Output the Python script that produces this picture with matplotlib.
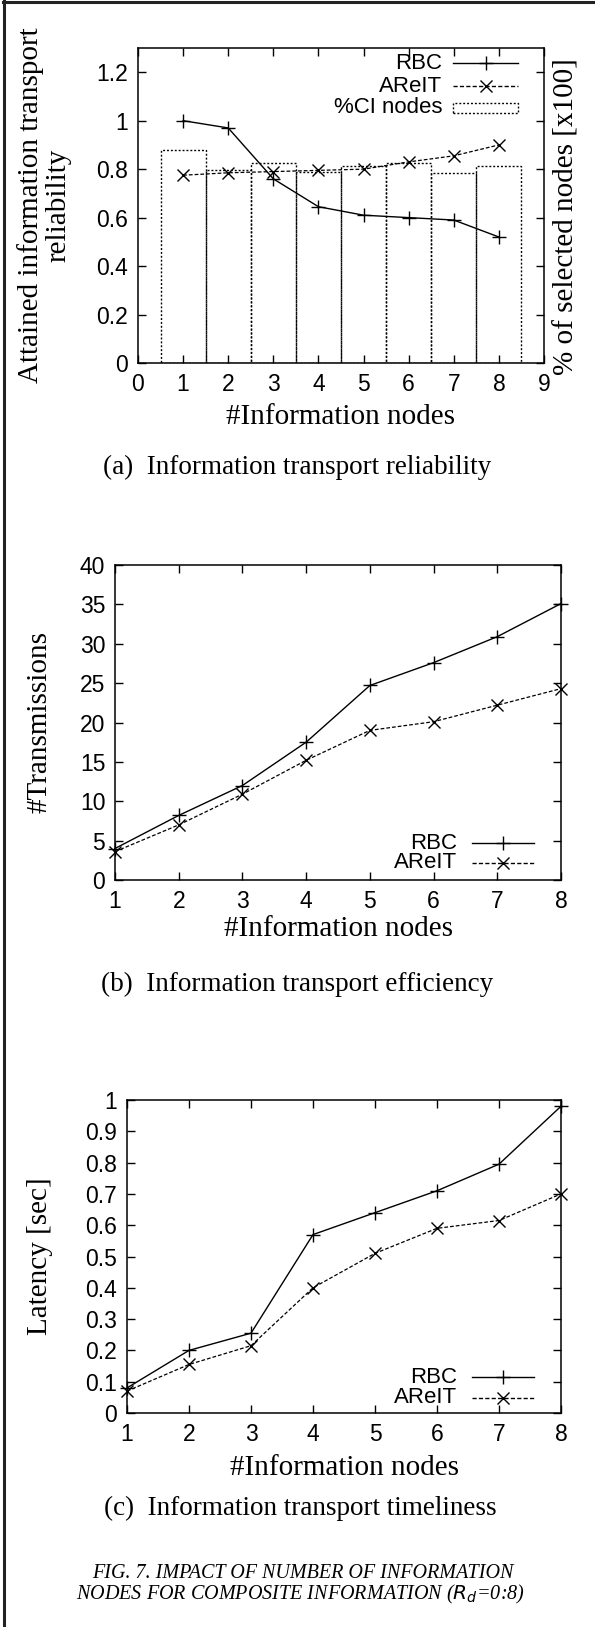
import matplotlib
matplotlib.use('Agg')
import matplotlib.pyplot as plt
from matplotlib.lines import Line2D
from matplotlib.patches import Rectangle

W, H = 595, 1627
DPI = 100

# ---------------- data ----------------
nodes = [1, 2, 3, 4, 5, 6, 7, 8]

rel_rbc = [1.00, 0.97, 0.76, 0.645, 0.61, 0.60, 0.59, 0.52]
rel_arelt = [0.775, 0.785, 0.79, 0.795, 0.80, 0.83, 0.855, 0.90]
ci_nodes = [0.88, 0.795, 0.825, 0.79, 0.815, 0.825, 0.785, 0.815]

tx_rbc = [4.0, 8.2, 12.0, 17.5, 24.7, 27.6, 30.9, 35.1]
tx_arelt = [3.6, 7.0, 10.9, 15.2, 19.0, 20.1, 22.2, 24.3]

lat_rbc = [0.08, 0.20, 0.255, 0.57, 0.64, 0.71, 0.795, 0.98]
lat_arelt = [0.07, 0.155, 0.215, 0.40, 0.51, 0.59, 0.615, 0.70]

series_labels = ['RBC', 'AReIT', '%CI nodes']

xt_a = [0, 1, 2, 3, 4, 5, 6, 7, 8, 9]
yt_a = [0, 0.2, 0.4, 0.6, 0.8, 1.0, 1.2]
yt_a_lbl = ['0', '0.2', '0.4', '0.6', '0.8', '1', '1.2']
yt_b = [0, 5, 10, 15, 20, 25, 30, 35, 40]
yt_c = [0, 0.1, 0.2, 0.3, 0.4, 0.5, 0.6, 0.7, 0.8, 0.9, 1.0]
yt_c_lbl = ['0', '0.1', '0.2', '0.3', '0.4', '0.5', '0.6', '0.7', '0.8', '0.9', '1']

# ---------------- style ----------------
SANS = ['Liberation Sans', 'DejaVu Sans']
SERIF = ['Liberation Serif', 'DejaVu Serif']
TICK_FS = 16.5
LEG_FS = 16
LAB_FS = 21
CAP_FS = 19.5
DASH = (0, (3.0, 1.6))
DOT = (0, (1.4, 1.4))

fig = plt.figure(figsize=(W / DPI, H / DPI), dpi=DPI)


def fx(x):
    return x / W


def fy(y):
    return 1 - y / H


def px_axes(l, r, t, b):
    return fig.add_axes([l / W, 1 - b / H, (r - l) / W, (b - t) / H])


def style_axes(ax):
    ax.tick_params(direction='in', top=True, right=True, length=6, width=1,
                   labelsize=TICK_FS, pad=7)
    ax.tick_params(axis='y', pad=7)
    for lbl in ax.get_xticklabels() + ax.get_yticklabels():
        lbl.set_family(SANS)
    for s in ax.spines.values():
        s.set_linewidth(1.1)


def plot_lines(ax, x, y1, y2):
    ax.plot(x, y1, color='black', lw=1.0, marker='+', ms=10, mew=1.0,
            clip_on=False, zorder=3)
    ax.plot(x, y2, color='black', lw=0.9, ls=DASH, marker='x', ms=9, mew=1.0,
            clip_on=False, zorder=3)


def manual_legend(ax, entries, xt, x1, x2, ys):
    for (label, kind), y in zip(entries, ys):
        ax.text(xt, y, label, transform=ax.transAxes, ha='right', va='center',
                fontsize=LEG_FS, family=SANS)
        if kind == 'rect':
            h = 0.032
            ax.add_patch(Rectangle((x1, y - h / 2), x2 - x1, h, transform=ax.transAxes,
                                   fill=False, ls=DOT, lw=1.0, ec='black', clip_on=False))
        else:
            ls = '-' if kind == '+' else DASH
            ax.add_line(Line2D([x1, x2], [y, y], color='black', lw=1.0, ls=ls,
                               transform=ax.transAxes))
            ax.add_line(Line2D([(x1 + x2) / 2], [y], color='black', marker=kind,
                               ms=10 if kind == '+' else 9, mew=1.0, ls='none',
                               transform=ax.transAxes))


# ---------------- (a) reliability ----------------
axa = px_axes(138, 544, 48, 363)
axa.bar(nodes, ci_nodes, width=1.0, fill=False, edgecolor='black', ls=DOT, lw=1.0)
plot_lines(axa, nodes, rel_rbc, rel_arelt)
axa.set_xlim(0, 9)
axa.set_ylim(0, 1.3)
axa.set_xticks(xt_a)
axa.set_yticks(yt_a)
axa.set_yticklabels(yt_a_lbl)
style_axes(axa)
manual_legend(axa, [(series_labels[0], '+'), (series_labels[1], 'x'), (series_labels[2], 'rect')],
              0.749, 0.776, 0.936, [0.952, 0.879, 0.810])
fig.text(fx(44), fy(205), 'Attained information transport\nreliability', rotation=90,
         ha='center', va='center', multialignment='center', fontsize=LAB_FS,
         family=SERIF, linespacing=1.05)
fig.text(fx(567), fy(217), '% of selected nodes [x100]', rotation=90,
         ha='center', va='center', fontsize=LAB_FS, family=SERIF)
fig.text(fx(341), fy(417), '#Information nodes', ha='center', va='center',
         fontsize=LAB_FS, family=SERIF)
fig.text(fx(297), fy(467), '(a)  Information transport reliability', ha='center',
         va='center', fontsize=CAP_FS, family=SERIF)

# ---------------- (b) efficiency ----------------
axb = px_axes(115, 561, 565, 880)
plot_lines(axb, nodes, tx_rbc, tx_arelt)
axb.set_xlim(1, 8)
axb.set_ylim(0, 40)
axb.set_xticks(nodes)
axb.set_yticks(yt_b)
style_axes(axb)
manual_legend(axb, [(series_labels[0], '+'), (series_labels[1], 'x')],
              0.767, 0.800, 0.939, [0.117, 0.054])
fig.text(fx(40), fy(722), '#Transmissions', rotation=90, ha='center', va='center',
         fontsize=LAB_FS, family=SERIF)
fig.text(fx(338), fy(929), '#Information nodes', ha='center', va='center',
         fontsize=LAB_FS, family=SERIF)
fig.text(fx(297), fy(984), '(b)  Information transport efficiency', ha='center',
         va='center', fontsize=CAP_FS, family=SERIF)

# ---------------- (c) timeliness ----------------
axc = px_axes(127, 561, 1100, 1413)
plot_lines(axc, nodes, lat_rbc, lat_arelt)
axc.set_xlim(1, 8)
axc.set_ylim(0, 1.0)
axc.set_xticks(nodes)
axc.set_yticks(yt_c)
axc.set_yticklabels(yt_c_lbl)
style_axes(axc)
manual_legend(axc, [(series_labels[0], '+'), (series_labels[1], 'x')],
              0.760, 0.795, 0.938, [0.115, 0.048])
fig.text(fx(40), fy(1256), 'Latency [sec]', rotation=90, ha='center', va='center',
         fontsize=LAB_FS, family=SERIF)
fig.text(fx(344), fy(1468), '#Information nodes', ha='center', va='center',
         fontsize=LAB_FS, family=SERIF)
fig.text(fx(300), fy(1508), '(c)  Information transport timeliness', ha='center',
         va='center', fontsize=CAP_FS, family=SERIF)

# ---------------- figure caption ----------------
fig.text(fx(303), fy(1573), 'FIG. 7. IMPACT OF NUMBER OF INFORMATION', ha='center',
         va='center', fontsize=14.5, family=SERIF, style='italic')
fig.text(fx(300), fy(1594), r'NODES FOR COMPOSITE INFORMATION ($\mathit{R_d}$=0:8)',
         ha='center', va='center', fontsize=14.5, family=SERIF, style='italic')

# ---------------- frame (left and top edges) ----------------
fig.add_artist(Line2D([fx(4), fx(4)], [0, fy(1)], color='#222222', lw=2.2,
                      transform=fig.transFigure))
fig.add_artist(Line2D([fx(3), 1], [fy(2), fy(2)], color='#222222', lw=2.2,
                      transform=fig.transFigure))

fig.savefig('out.png', dpi=DPI)
